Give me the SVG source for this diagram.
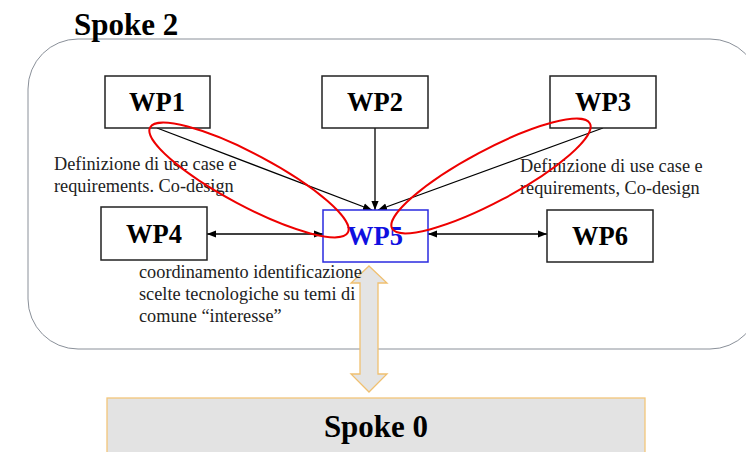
<svg xmlns="http://www.w3.org/2000/svg" width="746" height="452" viewBox="0 0 746 452">
<defs>
<marker id="ah" viewBox="0 0 10 10" refX="10" refY="5" markerWidth="9" markerHeight="9" markerUnits="userSpaceOnUse" orient="auto-start-reverse">
<path d="M0,1 L10,5 L0,9 z" fill="#000"/>
</marker>
<style>
.box{fill:#fff;stroke:#222;stroke-width:1.5}
.wp{font-family:"Liberation Serif",serif;font-weight:bold;font-size:26.5px;text-anchor:middle;fill:#000}
.lbl{font-family:"Liberation Serif",serif;font-size:18.3px;fill:#222}
.big{font-family:"Liberation Serif",serif;font-weight:bold;font-size:31px;fill:#000}
.con{stroke:#000;stroke-width:1.3;fill:none}
.ell{fill:none;stroke:#e00;stroke-width:2}
</style>
</defs>
<rect width="746" height="452" fill="#fff"/>
<g id="spoke2">
<rect x="28" y="39" width="732" height="310" rx="50" ry="50" fill="#fff" stroke="#8a9099" stroke-width="1"/>
<text class="big" x="74" y="35">Spoke 2</text>
</g>
<g id="spoke0">
<rect x="107" y="398" width="538" height="70" fill="#e3e3e3" stroke="#f3c67a" stroke-width="1.3"/>
<text class="big" x="376" y="437" text-anchor="middle">Spoke 0</text>
</g>
<g id="connectors">
<line class="con" x1="157" y1="128" x2="372" y2="210" marker-end="url(#ah)"/>
<line class="con" x1="375" y1="128" x2="375" y2="210" marker-end="url(#ah)"/>
<line class="con" x1="603" y1="128" x2="378" y2="210" marker-end="url(#ah)"/>
<line class="con" x1="207" y1="234" x2="323" y2="234" marker-start="url(#ah)" marker-end="url(#ah)"/>
<line class="con" x1="428" y1="234" x2="547" y2="234" marker-start="url(#ah)" marker-end="url(#ah)"/>
<path d="M369,266 L387,283 L378,283 L378,374 L387,374 L369,392 L351,374 L360,374 L360,283 L351,283 Z" fill="#e4e4e4" stroke="#f0c070" stroke-width="1.3"/>
</g>
<g id="wp1"><rect class="box" x="105" y="76" width="105" height="52"/><text class="wp" x="157" y="111">WP1</text></g>
<g id="wp2"><rect class="box" x="322" y="76" width="106" height="52"/><text class="wp" x="375" y="111">WP2</text></g>
<g id="wp3"><rect class="box" x="550" y="76" width="106" height="52"/><text class="wp" x="603" y="111">WP3</text></g>
<g id="wp4"><rect class="box" x="101" y="207" width="106" height="53"/><text class="wp" x="154" y="243">WP4</text></g>
<g id="wp5"><rect x="323" y="210" width="105" height="52" fill="#fff" stroke="#2a2ae0" stroke-width="1.5"/><text class="wp" x="375" y="245" style="fill:#1010e0">WP5</text></g>
<g id="wp6"><rect class="box" x="547" y="210" width="106" height="52"/><text class="wp" x="600" y="245">WP6</text></g>
<g id="labels">
<text class="lbl" x="54" y="170">Definizione di use case e</text>
<text class="lbl" x="54" y="192">requirements. Co-design</text>
<text class="lbl" x="520" y="172">Definizione di use case e</text>
<text class="lbl" x="520" y="194">requirements, Co-design</text>
<text class="lbl" x="139" y="278">coordinamento identificazione</text>
<text class="lbl" x="139" y="300">scelte tecnologiche su temi di</text>
<text class="lbl" x="139" y="322">comune “interesse”</text>
</g>
<g id="highlights">
<ellipse class="ell" cx="249" cy="180" rx="112" ry="26" transform="rotate(28 249 180)"/>
<ellipse class="ell" cx="491" cy="176" rx="112" ry="26" transform="rotate(-28 491 176)"/>
</g>
</svg>
